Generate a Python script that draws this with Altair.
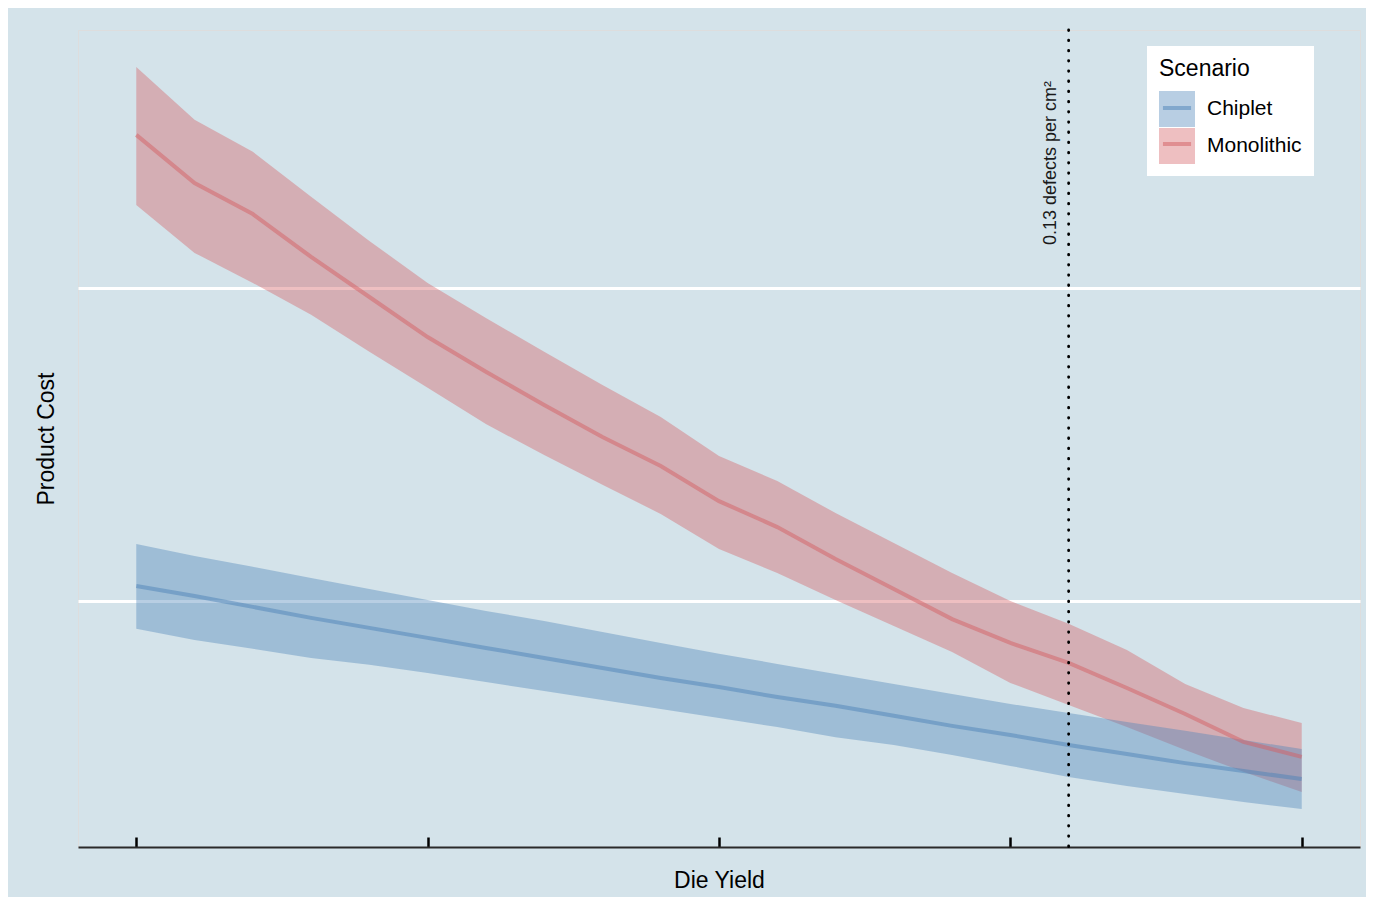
import altair as alt
import pandas as pd

# ---------------- data ----------------
die_yield = [0.50, 0.52, 0.54, 0.56, 0.58, 0.60, 0.62, 0.64, 0.66, 0.68, 0.70,
             0.72, 0.74, 0.76, 0.78, 0.80, 0.82, 0.84, 0.86, 0.88, 0.90]

mono_mid = [3.489, 3.335, 3.236, 3.099, 2.971, 2.843, 2.732, 2.626, 2.524, 2.431, 2.319,
            2.236, 2.134, 2.038, 1.942, 1.866, 1.802, 1.722, 1.639, 1.550, 1.502]
mono_hi = [3.706, 3.537, 3.435, 3.291, 3.150, 3.016, 2.904, 2.796, 2.690, 2.588, 2.463,
           2.383, 2.281, 2.185, 2.089, 2.000, 1.927, 1.843, 1.735, 1.658, 1.610]
mono_lo = [3.265, 3.112, 3.016, 2.914, 2.796, 2.681, 2.565, 2.466, 2.371, 2.278, 2.166,
           2.089, 2.003, 1.920, 1.837, 1.738, 1.668, 1.597, 1.524, 1.454, 1.390]

chip_mid = [2.048, 2.016, 1.981, 1.946, 1.914, 1.882, 1.850, 1.818, 1.786, 1.754, 1.725,
            1.693, 1.665, 1.633, 1.601, 1.572, 1.540, 1.511, 1.482, 1.457, 1.431]
chip_hi = [2.182, 2.144, 2.109, 2.073, 2.038, 2.003, 1.968, 1.936, 1.901, 1.866, 1.831,
           1.799, 1.767, 1.735, 1.703, 1.671, 1.642, 1.613, 1.585, 1.556, 1.527]
chip_lo = [1.911, 1.875, 1.847, 1.818, 1.796, 1.770, 1.741, 1.712, 1.684, 1.655, 1.626,
           1.597, 1.565, 1.540, 1.508, 1.473, 1.438, 1.409, 1.383, 1.358, 1.335]

scenarios = ["Chiplet", "Monolithic"]
scenario_colors = ["#4d84b8", "#d45f63"]

x_tick_values = [0.5, 0.6, 0.7, 0.8, 0.9]
y_grid_values = [2, 3]
x_domain = [0.48, 0.92]
y_domain = [1.214, 3.824]

defect_yield = [0.82]
defect_label = ["0.13 defects per cm\u00b2"]

# ---------------- tables ----------------
rows = []
for i, x in enumerate(die_yield):
    rows.append({"die_yield": x, "scenario": "Chiplet",
                 "mid": chip_mid[i], "lo": chip_lo[i], "hi": chip_hi[i]})
for i, x in enumerate(die_yield):
    rows.append({"die_yield": x, "scenario": "Monolithic",
                 "mid": mono_mid[i], "lo": mono_lo[i], "hi": mono_hi[i]})
df = pd.DataFrame(rows)
# separate key for the line legend so it is not merged with the band legend
df["scenario_line"] = df["scenario"] + " "
line_domain = [s + " " for s in scenarios]
ann = pd.DataFrame({"die_yield": defect_yield, "label": defect_label})

FONT = "Liberation Sans"
BG = "#d4e3ea"

xscale = alt.Scale(domain=x_domain, nice=False, zero=False)
yscale = alt.Scale(domain=y_domain, nice=False, zero=False)

x_axis = alt.Axis(values=x_tick_values, labels=False, grid=False, title="Die Yield",
                  tickSize=alt.ExprRef(expr="-10"), tickColor="black", tickWidth=2.5,
                  domainColor="#2a2a2a", domainWidth=2, titlePadding=21,
                  titleFont=FONT, titleFontSize=23, titleFontWeight="normal",
                  titleColor="black")
y_axis = alt.Axis(values=y_grid_values, labels=False, ticks=False, domain=False,
                  grid=True, gridColor="white", gridWidth=3, gridOpacity=1,
                  title="Product Cost", titlePadding=20,
                  titleFont=FONT, titleFontSize=23, titleFontWeight="normal",
                  titleColor="black")

X = alt.X("die_yield:Q", scale=xscale, axis=x_axis)

fill_legend = alt.Legend(
    title="Scenario", orient="none", legendX=1069, legendY=16,
    symbolType="square", symbolSize=1296, symbolOpacity=0.4, symbolStrokeWidth=0,
    fillColor="white", padding=12, rowPadding=1, labelOffset=12, titlePadding=10,
    titleFont=FONT, titleFontSize=23, titleFontWeight="normal", titleColor="black",
    labelFont=FONT, labelFontSize=21, labelColor="black", zindex=1)

stroke_legend = alt.Legend(
    title=None, orient="none", legendX=1079, legendY=58,
    symbolType="M0,-0.44L0,-0.44M-0.78,0L0.78,0M0,0.44L0,0.44", symbolSize=1296,
    symbolStrokeWidth=4, symbolOpacity=0.5,
    padding=0, rowPadding=0, labelExpr="''",
    labelFontSize=21, zindex=2)

fill_enc = alt.Fill("scenario:N", scale=alt.Scale(domain=scenarios, range=scenario_colors),
                    legend=fill_legend)
stroke_enc = alt.Stroke("scenario_line:N",
                        scale=alt.Scale(domain=line_domain, range=scenario_colors),
                        legend=stroke_legend)

area_base = alt.Chart(df).mark_area(opacity=0.4).encode(
    x=X,
    y=alt.Y("lo:Q", scale=yscale, axis=y_axis),
    y2="hi:Q",
    fill=fill_enc,
)
area_mono = area_base.transform_filter(alt.datum.scenario == "Monolithic")
area_chip = area_base.transform_filter(alt.datum.scenario == "Chiplet")

lines = alt.Chart(df).mark_line(strokeWidth=4, opacity=0.5).encode(
    x=X,
    y=alt.Y("mid:Q", scale=yscale, axis=y_axis),
    stroke=stroke_enc,
)

rule = alt.Chart(ann).mark_rule(color="black", strokeWidth=2.8, strokeDash=[0.5, 9.7],
                                strokeCap="round").encode(x=X)

label = alt.Chart(ann).mark_text(angle=270, align="left", baseline="alphabetic", dy=-13,
                                 font=FONT, fontSize=18, color="#1a1a1a").encode(
    x=X, y=alt.value(215), text="label:N")

chart = alt.layer(area_mono, area_chip, lines, rule, label).properties(
    width=1282, height=817,
    autosize=alt.AutoSizeParams(type="none"),
    padding={"left": 70, "top": 22, "right": 6, "bottom": 50},
    background=BG,
).configure_view(stroke=None).configure(font=FONT)

chart.save("out.html", embed_options={"renderer": "svg", "actions": False})
